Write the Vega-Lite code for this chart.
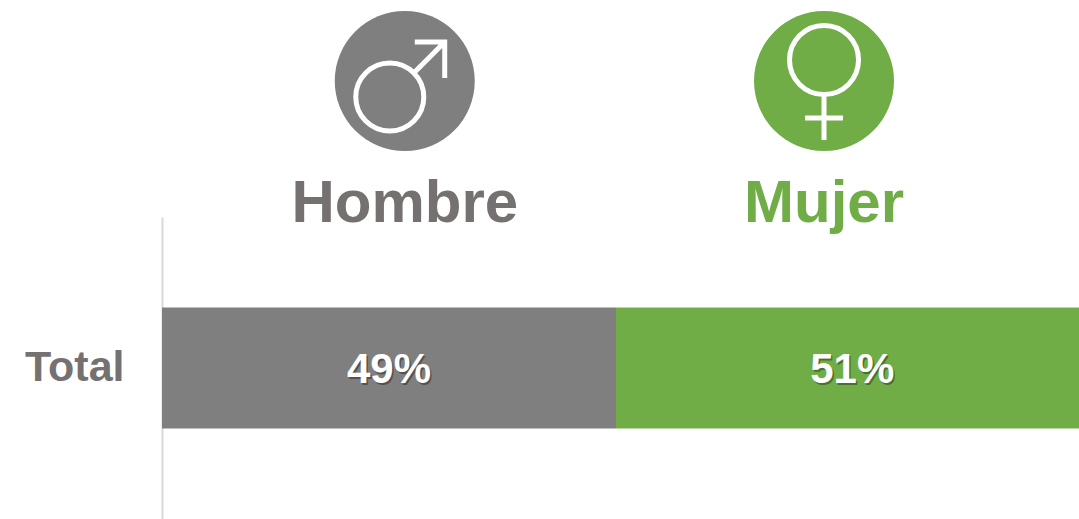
{
"$schema":"https://vega.github.io/schema/vega-lite/v6.json",
"padding":{"left":24,"top":0,"right":0,"bottom":0},
"background":"white",
"spacing":0,
"bounds":"flush",
"config":{"view":{"stroke":null},"text":{"font":"Liberation Sans","fontWeight":"bold"}},
"datasets":{
"cabecera":[{"sexo":"Hombre","centro":26.2,"icono":"icono","nombre":"nombre"},{"sexo":"Mujer","centro":71.45,"icono":"icono","nombre":"nombre"}],
"barras":[{"fila":"Total","sexo":"Hombre","orden":1,"pct":49,"medio":24.5,"etiqueta":"49%"},{"fila":"Total","sexo":"Mujer","orden":2,"pct":51,"medio":74.5,"etiqueta":"51%"}]
},
"vconcat":[
{"width":917,"height":217,"data":{"name":"cabecera"},
"encoding":{"x":{"field":"centro","type":"quantitative","axis":null,"scale":{"domain":[0,98.97],"nice":false}}},
"resolve":{"scale":{"color":"independent"}},
"layer":[
{"mark":{"type":"point","filled":true,"shape":"circle","size":19600,"opacity":1},
"encoding":{"y":{"field":"icono","type":"nominal","axis":null,"scale":{"type":"point","padding":0,"domain":["icono","nombre"],"range":[81,203.5]}},
"color":{"field":"sexo","type":"nominal","legend":null,"scale":{"domain":["Hombre","Mujer"],"range":["#7f7f7f","#70ad47"]}}}},
{"mark":{"type":"point","filled":false,"size":19600,"stroke":"white","strokeWidth":5,"opacity":1},
"encoding":{"y":{"field":"icono","type":"nominal","axis":null,"scale":{"type":"point","padding":0,"domain":["icono","nombre"],"range":[81,203.5]}},
"shape":{"field":"sexo","type":"nominal","legend":null,"scale":{"domain":["Hombre","Mujer"],"range":[
"M0.272 0.229A0.486 0.486 0 1 1 -0.7 0.229A0.486 0.486 0 1 1 0.272 0.229ZM0.129 -0.114L0.571 -0.557M0.143 -0.557L0.571 -0.557L0.571 -0.043",
"M0.493 -0.3A0.493 0.493 0 1 1 -0.493 -0.3A0.493 0.493 0 1 1 0.493 -0.3ZM0 0.193L0 0.843M-0.271 0.529L0.271 0.529"
]}}}},
{"mark":{"type":"text","fontSize":60,"align":"center","baseline":"middle"},
"encoding":{"y":{"field":"nombre","type":"nominal","axis":null,"scale":{"type":"point","padding":0,"domain":["icono","nombre"],"range":[81,203.5]}},
"text":{"field":"sexo"},
"color":{"field":"sexo","type":"nominal","legend":null,"scale":{"domain":["Hombre","Mujer"],"range":["#767171","#70ad47"]}}}}
]},
{"width":917,"height":302,"data":{"name":"barras"},
"transform":[{"stack":"pct","groupby":["fila"],"sort":[{"field":"orden","order":"ascending"}],"as":["x0","x1"]}],
"encoding":{"y":{"field":"fila","type":"nominal","title":null,"scale":{"type":"band","paddingInner":0.6,"paddingOuter":0.3},
"axis":{"domainColor":"#d9d9d9","domainWidth":2,"ticks":false,"labelPadding":38,"labelFont":"Liberation Sans","labelFontWeight":"bold","labelFontSize":43,"labelColor":"#767171","labelAngle":0,"grid":false}}},
"layer":[
{"mark":{"type":"bar","clip":true},
"encoding":{"x":{"field":"x0","type":"quantitative","axis":null,"scale":{"domain":[0,98.97],"nice":false}},"x2":{"field":"x1"},
"color":{"field":"sexo","type":"nominal","legend":null,"scale":{"domain":["Hombre","Mujer"],"range":["#7f7f7f","#70ad47"]}}}},
{"mark":{"type":"text","fontSize":42,"align":"center","baseline":"middle","dx":1.5,"dy":3.5,"fill":"#000000","opacity":0.35},
"encoding":{"x":{"field":"medio","type":"quantitative","scale":{"domain":[0,98.97],"nice":false}},"text":{"field":"etiqueta"}}},
{"mark":{"type":"text","fontSize":42,"align":"center","baseline":"middle","dy":2,"fill":"white"},
"encoding":{"x":{"field":"medio","type":"quantitative","scale":{"domain":[0,98.97],"nice":false}},"text":{"field":"etiqueta"}}}
]}
]
}
